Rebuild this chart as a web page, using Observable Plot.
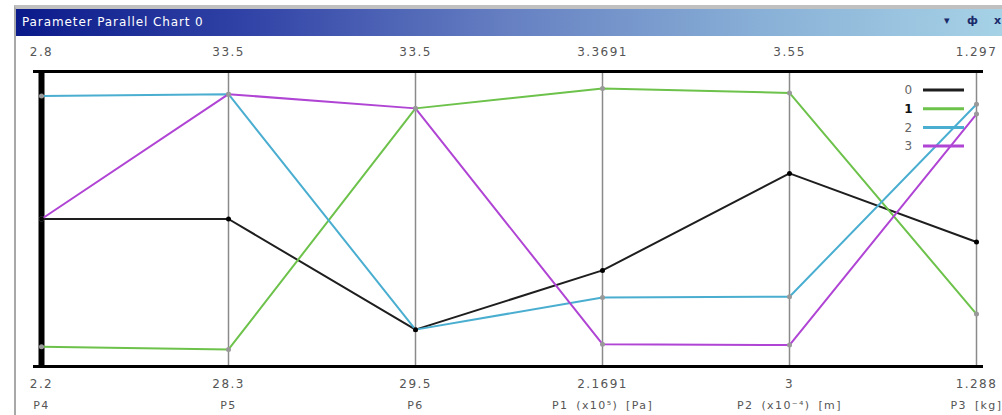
<!DOCTYPE html>
<html>
<head>
<meta charset="utf-8">
<script src="https://cdn.jsdelivr.net/npm/d3@7"></script>
<script src="https://cdn.jsdelivr.net/npm/@observablehq/plot@0.6"></script>
<style>
  html, body { margin: 0; padding: 0; background: #fff; width: 1002px; height: 415px; overflow: hidden; }
  #frame { position: absolute; left: 14px; top: 5px; width: 988px; height: 410px;
           border-left: 2px solid #a8a8a8; border-top: 4px solid #c0c0c0; box-sizing: border-box; }
  #titlebar { position: absolute; left: 16px; top: 9px; width: 986px; height: 27px;
              background: linear-gradient(to right, #0b1a8a 0%, #3446a8 25%, #6680c2 50%, #88afd6 75%, #a6d2e6 100%);
              font-family: "DejaVu Sans", sans-serif; font-size: 12px; color: #fff; }
  #titlebar .t { position: absolute; left: 6px; top: 6px; letter-spacing: 0.9px; }
  #titlebar .ic { position: absolute; top: 5px; color: #1a2a6a; font-size: 11px; font-weight: bold; }
  #chart { position: absolute; left: 0; top: 36px; }
</style>
</head>
<body>
<div id="frame"></div>
<div id="titlebar"><span class="t">Parameter Parallel Chart 0</span><span class="ic" style="left:928px">▾</span><span class="ic" style="left:951px">ф</span><span class="ic" style="left:978px">x</span></div>
<div id="chart"></div>
<script>
// Axes (dimensions), in display order
const dims = ["P4", "P5", "P6", "P1", "P2", "P3"];
const dimNames = ["P4", "P5", "P6", "P1 (x10⁵) [Pa]", "P2 (x10⁻⁴) [m]", "P3 [kg]"];
const axisMin = [2.2, 28.3, 29.5, 2.1691, 3, 1.288];
const axisMax = [2.8, 33.5, 33.5, 3.3691, 3.55, 1.297];
const minLabels = ["2.2", "28.3", "29.5", "2.1691", "3", "1.288"];
const maxLabels = ["2.8", "33.5", "33.5", "3.3691", "3.55", "1.297"];

// Series
const seriesNames = ["0", "1", "2", "3"];
const series0 = [2.50, 30.9, 30.0, 2.56, 3.36, 1.2918];
const series1 = [2.24, 28.6, 33.0, 3.30, 3.51, 1.2896];
const series2 = [2.75, 33.1, 30.0, 2.45, 3.13, 1.2960];
const series3 = [2.50, 33.1, 33.0, 2.26, 3.04, 1.2957];
const seriesColors = ["#1e1e1e", "#6cc24a", "#4aaed0", "#b044d4"];

const allSeries = [series0, series1, series2, series3];
const rows = [];
allSeries.forEach((vals, s) => {
  vals.forEach((v, i) => {
    rows.push({series: seriesNames[s], dim: dims[i], t: (v - axisMin[i]) / (axisMax[i] - axisMin[i])});
  });
});

const legend = (index, scales) => {
  const g = d3.create("svg:g").attr("font-family", "DejaVu Sans, sans-serif").attr("font-size", 12);
  seriesNames.forEach((s, i) => {
    const yy = 54 + i * 18.7;
    g.append("text").attr("x", 909).attr("y", yy).attr("dy", "0.35em")
      .attr("text-anchor", "middle").attr("fill", i === 1 ? "#111" : "#666")
      .attr("font-weight", i === 1 ? "bold" : null).text(s);
    g.append("line").attr("x1", 923).attr("x2", 964).attr("y1", yy).attr("y2", yy)
      .attr("stroke", scales.color ? scales.color(s) : seriesColors[i]).attr("stroke-width", 3);
  });
  return g.node();
};

const chart = Plot.plot({
  width: 1002,
  height: 379,
  marginTop: 0, marginBottom: 0, marginLeft: 33, marginRight: 19,
  x: {type: "point", domain: dims, range: [40, 976], padding: 0, axis: null},
  y: {domain: [0, 1], range: [330, 35], axis: null},
  color: {domain: seriesNames, range: seriesColors},
  style: {background: "transparent", fontFamily: "DejaVu Sans, sans-serif", letterSpacing: "1.4px", wordSpacing: "3px"},
  marks: [
    Plot.ruleX(dims.slice(1), {x: d => d, y1: 0, y2: 1, stroke: "#8a8a8a", strokeWidth: 1.5}),
    Plot.ruleX(dims.slice(0, 1), {x: d => d, y1: 0, y2: 1, stroke: "#000", strokeWidth: 6}),
    Plot.ruleY([0, 1], {stroke: "#000", strokeWidth: 3}),
    Plot.line(rows, {x: "dim", y: "t", z: "series", stroke: "series", strokeWidth: 2}),
    Plot.dot(rows.filter(d => d.series !== "0"), {x: "dim", y: "t", r: 2.5, fill: "#999", stroke: "none"}),
    Plot.dot(rows.filter(d => d.series === "0"), {x: "dim", y: "t", r: 2.5, fill: "#000", stroke: "none"}),
    Plot.text(dims, {x: d => d, y: 1, text: (d, i) => maxLabels[i], dy: -19, fill: "#555", fontSize: 12}),
    Plot.text(dims, {x: d => d, y: 0, text: (d, i) => minLabels[i], dy: 18, fill: "#555", fontSize: 12}),
    Plot.text(dims, {x: d => d, y: 0, text: (d, i) => dimNames[i], dy: 39, fill: "#555", fontSize: 11}),
    legend
  ]
});
document.getElementById("chart").appendChild(chart);
</script>
</body>
</html>
